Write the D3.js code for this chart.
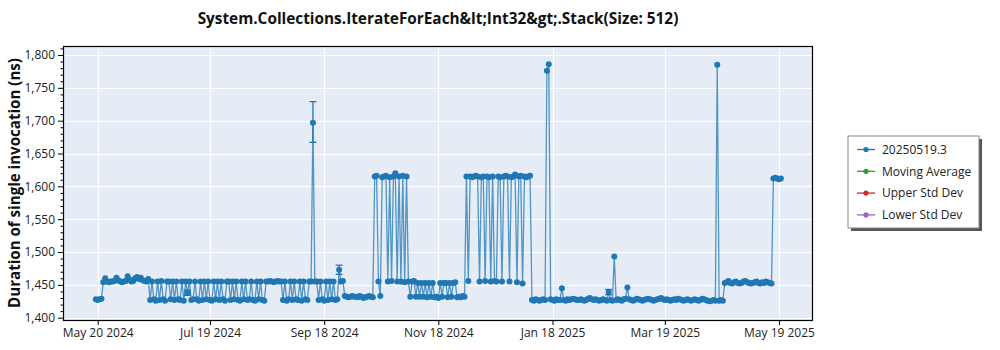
<!DOCTYPE html>
<html>
<head>
<meta charset="utf-8">
<script src="https://cdn.jsdelivr.net/npm/d3@7"></script>
<style>
  body { margin: 0; background: #fff; }
  text { font-family: "Open Sans", "Noto Sans", "DejaVu Sans", sans-serif; }
</style>
</head>
<body>
<svg id="chart" width="1000" height="350"></svg>
<script>
// ---- chart text ----
const titleText = "System.Collections.IterateForEach&lt;Int32&gt;.Stack(Size: 512)";
const yAxisTitle = "Duration of single invocation (ns)";

// ---- daily measurements (ns), one per day starting at seriesStart ----
const seriesStart = "2024-05-19";
const durations = [
  // May - Jun 2024
  1428, 1427, 1428, 1429, 1454, 1460, 1455, 1454, 1455, 1455,
  1456, 1461, 1457, 1455, 1454, 1455, 1456, 1463, 1458, 1455,
  1456, 1460, 1462, 1459, 1461, 1457, 1456, 1455, 1459,
  // Jun - Sep 2024
  1427, 1455, 1428, 1426, 1455, 1427, 1456, 1428, 1426, 1455,
  1455,
  1428, 1455, 1427, 1455, 1428, 1427, 1455, 1426, 1455, 1438, 1455, 1427, 1428,
  1455, 1428, 1426, 1455, 1427, 1455, 1428, 1455, 1427, 1426, 1455, 1428, 1455, 1427, 1455, 1428, 1426, 1455,
  1455,
  1427, 1455, 1428, 1455, 1427, 1426, 1455, 1428, 1455, 1427, 1428,
  1455,
  1427, 1426, 1455, 1428, 1455, 1427, 1426,
  1455, 1455, 1456, 1455, 1454, 1455, 1456, 1455, 1455,
  1427, 1455, 1426, 1428, 1455, 1427, 1455, 1428, 1427, 1455, 1426, 1455, 1428, 1427,
  1455, 1455, 1697, 1455, 1455,
  1427, 1455, 1428, 1426, 1455, 1427, 1455, 1428, 1455, 1427, 1428, 1473,
  1455, 1456,
  // Sep - Oct 2024
  1433, 1432, 1431, 1432, 1433, 1432, 1432, 1431, 1433, 1432, 1430, 1431, 1432, 1433, 1432, 1431,
  1615, 1616, 1455, 1433, 1614, 1615, 1616, 1455, 1614, 1456, 1615, 1620, 1455, 1615, 1455, 1616,
  1454, 1615, 1455, 1432, 1455, 1456, 1432,
  // Oct - Dec 2024
  1453, 1432, 1453, 1432, 1453, 1431, 1453, 1432, 1453, 1431, 1432, 1430, 1453, 1432, 1453, 1453,
  1431, 1453, 1432, 1453, 1454, 1431, 1432, 1431, 1433, 1432,
  1615, 1456, 1615, 1614, 1615, 1616, 1615, 1455, 1614, 1615, 1456, 1615, 1614, 1455, 1615, 1456,
  1455, 1615, 1614, 1455, 1615, 1616, 1615, 1455, 1614, 1615, 1618, 1454, 1615, 1616, 1452, 1615,
  1614, 1615, 1616,
  // Jan - Apr 2025
  1427, 1426, 1428, 1427, 1426, 1427, 1428, 1427, 1776, 1786,
  1428, 1427, 1426, 1428, 1427, 1427, 1445,
  1427, 1426, 1428, 1427, 1428, 1429, 1428, 1427, 1427, 1428, 1427, 1426, 1427, 1429, 1430, 1428,
  1427, 1428, 1427, 1426, 1427, 1428, 1427, 1426,
  1439, 1427, 1426, 1493, 1427, 1428, 1427, 1426, 1428, 1429, 1446,
  1428, 1427, 1426, 1427, 1429, 1428, 1427, 1426, 1427, 1428,
  1429, 1428, 1427, 1426, 1427, 1428, 1429, 1430, 1428, 1427,
  1428, 1427, 1426, 1427, 1428, 1427, 1429, 1428, 1427, 1426,
  1427, 1428, 1427, 1426, 1427, 1428, 1427, 1426, 1427, 1429,
  1428, 1427, 1426, 1425, 1426, 1427, 1426,
  1785, 1426, 1427, 1426,
  // Apr - May 2025
  1453, 1454, 1456, 1453, 1452, 1454, 1455, 1453, 1452, 1453, 1455, 1456, 1454,
  1453, 1452, 1453, 1454, 1455, 1453, 1452, 1454, 1453, 1455, 1454, 1453, 1452,
  1612, 1613, 1612, 1611, 1612
];

// ---- runs that carry an error bar ----
const errorDates = ["2024-07-07", "2024-09-12", "2024-09-26", "2025-02-17"];
const errorUpper = [1442, 1729, 1480, 1443];
const errorLower = [1434, 1667, 1466, 1435];

// ---- axes ----
const xTickDates = ["2024-05-20", "2024-07-19", "2024-09-18", "2024-11-18", "2025-01-18", "2025-03-19", "2025-05-19"];
const xTickLabels = ["May 20 2024", "Jul 19 2024", "Sep 18 2024", "Nov 18 2024", "Jan 18 2025", "Mar 19 2025", "May 19 2025"];
const yTicks = [1400, 1450, 1500, 1550, 1600, 1650, 1700, 1750, 1800];

// ---- legend ----
const legendNames = ["20250519.3", "Moving Average", "Upper Std Dev", "Lower Std Dev"];
const legendColors = ["#1f77b4", "#2ca02c", "#d62728", "#9467bd"];

// ================= drawing =================
const parseDay = d3.timeParse("%Y-%m-%d");
const start = parseDay(seriesStart);
const points = durations.map((v, i) => ({ date: d3.timeDay.offset(start, i), value: v }));

const plot = { left: 63, right: 813, top: 46, bottom: 320 };
const svg = d3.select("#chart");

const x = d3.scaleTime()
  .domain([new Date(2024, 4, 1, 11), new Date(2025, 5, 6, 4)])
  .range([plot.left, plot.right]);
const y = d3.scaleLinear()
  .domain([1396.5, 1813.7])
  .range([plot.bottom, plot.top]);

// plot background
svg.append("rect")
  .attr("x", plot.left).attr("y", plot.top)
  .attr("width", plot.right - plot.left).attr("height", plot.bottom - plot.top)
  .attr("fill", "#e5ecf6");

// grid
const grid = svg.append("g").attr("stroke", "#ffffff").attr("stroke-width", 1.2);
grid.selectAll("line.h").data(yTicks).join("line")
  .attr("x1", plot.left).attr("x2", plot.right)
  .attr("y1", d => Math.round(y(d)) + 0.5).attr("y2", d => Math.round(y(d)) + 0.5);
grid.selectAll("line.v").data(xTickDates).join("line")
  .attr("y1", plot.top).attr("y2", plot.bottom)
  .attr("x1", d => Math.round(x(parseDay(d))) + 0.5).attr("x2", d => Math.round(x(parseDay(d))) + 0.5);

// series
svg.append("defs").append("clipPath").attr("id", "plotClip")
  .append("rect").attr("x", plot.left).attr("y", plot.top)
  .attr("width", plot.right - plot.left).attr("height", plot.bottom - plot.top);
const series = svg.append("g").attr("clip-path", "url(#plotClip)");

const line = d3.line().x(d => x(d.date)).y(d => y(d.value));
series.append("path")
  .datum(points)
  .attr("fill", "none")
  .attr("stroke", "#1f77b4")
  .attr("stroke-opacity", 0.75)
  .attr("stroke-width", 1.3)
  .attr("d", line);

// error bars
const errors = errorDates.map((d, i) => ({ date: parseDay(d), hi: errorUpper[i], lo: errorLower[i] }));
const eb = series.append("g").attr("stroke", "#1f77b4").attr("stroke-width", 1.3);
eb.selectAll("line.stem").data(errors).join("line")
  .attr("x1", d => x(d.date)).attr("x2", d => x(d.date))
  .attr("y1", d => y(d.hi)).attr("y2", d => y(d.lo));
["hi", "lo"].forEach(k => {
  eb.selectAll("line.cap-" + k).data(errors).join("line")
    .attr("x1", d => x(d.date) - 3.5).attr("x2", d => x(d.date) + 3.5)
    .attr("y1", d => y(d[k])).attr("y2", d => y(d[k]));
});

series.selectAll("circle").data(points).join("circle")
  .attr("cx", d => x(d.date))
  .attr("cy", d => y(d.value))
  .attr("r", 3)
  .attr("fill", "#1f77b4");

// frame
svg.append("rect")
  .attr("x", plot.left + 0.5).attr("y", plot.top + 0.5)
  .attr("width", plot.right - plot.left - 1).attr("height", plot.bottom - plot.top)
  .attr("fill", "none").attr("stroke", "#000").attr("stroke-width", 1.2);

// y axis
const yMinor = d3.range(1400, 1811, 10).filter(v => v % 50 !== 0);
const yMinorAxis = svg.append("g").attr("transform", `translate(${plot.left},0)`)
  .call(d3.axisLeft(y).tickValues(yMinor).tickSize(2.5).tickFormat(""));
yMinorAxis.select(".domain").remove();
const yAxis = svg.append("g").attr("transform", `translate(${plot.left},0)`)
  .call(d3.axisLeft(y).tickValues(yTicks).tickSize(5).tickPadding(3).tickFormat(d3.format(",")));
yAxis.select(".domain").remove();
yAxis.selectAll("text").attr("font-size", 12).attr("fill", "#222");

// x axis
const xAxis = svg.append("g").attr("transform", `translate(0,${plot.bottom})`)
  .call(d3.axisBottom(x).tickValues(xTickDates.map(parseDay)).tickSize(5).tickPadding(3)
    .tickFormat((d, i) => xTickLabels[i]));
xAxis.select(".domain").remove();
xAxis.selectAll("text").attr("font-size", 12).attr("fill", "#222");

// fit a bold label to a target width
function fitText(sel, target, base) {
  sel.attr("font-size", base);
  const w = sel.node().getComputedTextLength();
  sel.attr("font-size", base * target / w);
}

// title
const title = svg.append("text")
  .attr("x", (plot.left + plot.right) / 2).attr("y", 24)
  .attr("text-anchor", "middle").attr("font-weight", "bold").attr("fill", "#111")
  .text(titleText);
fitText(title, 481, 15);

// y axis title
const yTitle = svg.append("text")
  .attr("transform", `translate(20,${(plot.top + plot.bottom) / 2}) rotate(-90)`)
  .attr("text-anchor", "middle").attr("font-weight", "bold").attr("fill", "#111")
  .text(yAxisTitle);
fitText(yTitle, 250, 16);

// legend
const lg = svg.append("g").attr("transform", "translate(848,136)");
lg.append("rect").attr("x", 3).attr("y", 3).attr("width", 131).attr("height", 92).attr("fill", "#555");
lg.append("rect").attr("x", 0).attr("y", 0).attr("width", 131).attr("height", 92)
  .attr("fill", "#fff").attr("stroke", "#888").attr("stroke-width", 1);
const items = lg.selectAll("g.item").data(legendNames).join("g")
  .attr("transform", (d, i) => `translate(0,${13.5 + i * 21.8})`);
items.append("line").attr("x1", 9).attr("x2", 27).attr("y1", 0).attr("y2", 0)
  .attr("stroke", (d, i) => legendColors[i]).attr("stroke-width", 1.3);
items.append("circle").attr("cx", 18).attr("cy", 0).attr("r", 2.6)
  .attr("fill", (d, i) => legendColors[i]);
items.append("text").attr("x", 34).attr("y", 4.2).attr("font-size", 12).attr("fill", "#222")
  .text(d => d);
</script>
</body>
</html>
